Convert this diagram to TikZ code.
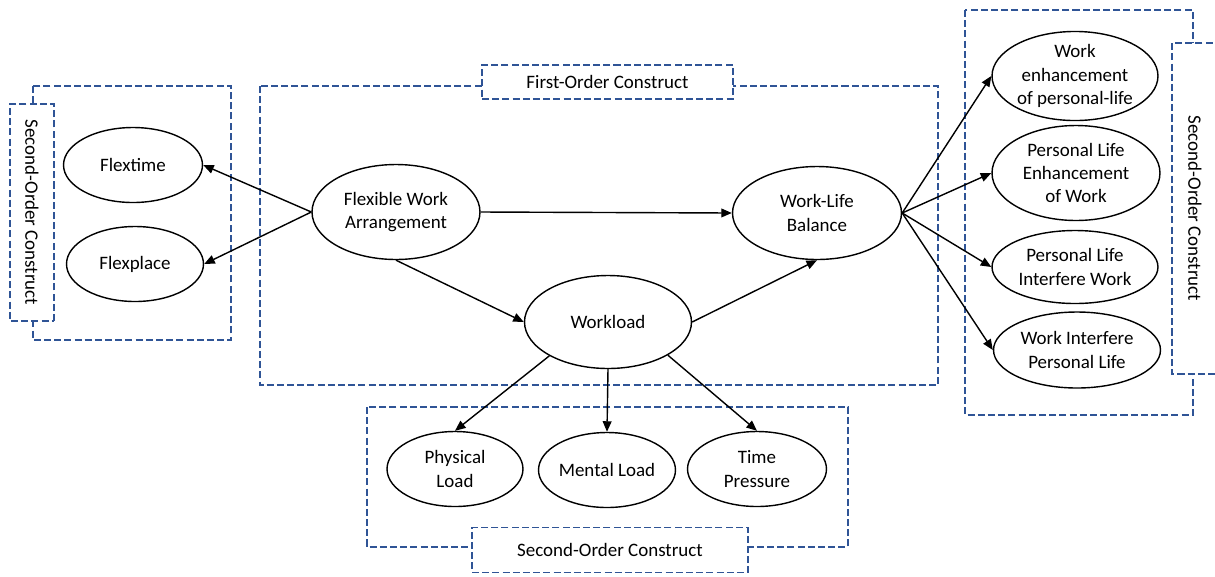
\documentclass[tikz,border=0pt]{standalone}
\usepackage{fontspec}
\setmainfont{Carlito}
\usetikzlibrary{shapes.geometric,arrows.meta}
\definecolor{boxblue}{HTML}{2F5496}
\begin{document}
\begin{tikzpicture}[x=0.02cm,y=-0.02cm,font={\fontsize{10.8}{13.3}\selectfont},
	>={Triangle[length=6pt,width=5pt]},
	construct/.style={ellipse,draw,line width=0.8pt,inner sep=0pt,align=center,fill=white},
	group/.style={draw=boxblue,line width=0.8pt,dash pattern=on 4pt off 1.8pt},
	grouplabel/.style={group,fill=white,inner sep=0pt},
	link/.style={->,line width=0.8pt}]
	\useasboundingbox (0,0) rectangle (1215,576);
	%%Khung nhóm
	\draw[group] (33,86) rectangle (231,340);
	\draw[group] (260,86) rectangle (938,385);
	\draw[group] (367,407) rectangle (848,547);
	\draw[group] (965,10) rectangle (1193,415);
	\node[grouplabel,rotate=-90,minimum width=4.34cm,minimum height=0.88cm] (lblleft) at (32,212.5) {Second-Order Construct};
	\node[grouplabel,rotate=-90,minimum width=6.62cm,minimum height=0.92cm] (lblright) at (1195,208.5) {Second-Order Construct};
	\node[grouplabel,minimum width=5.02cm,minimum height=0.68cm] (lbltop) at (607.5,82) {First-Order Construct};
	\node[grouplabel,minimum width=5.52cm,minimum height=0.9cm] (lblbottom) at (610,550) {Second-Order Construct};
	%%Các biến tiềm ẩn
	\node[construct,minimum width=2.78cm,minimum height=1.5cm] (flextime) at (133,165) {Flextime};
	\node[construct,minimum width=2.74cm,minimum height=1.5cm] (flexplace) at (135,264) {Flexplace};
	\node[construct,minimum width=3.36cm,minimum height=1.9cm] (fwa) at (396,212) {Flexible Work\\Arrangement};
	\node[construct,minimum width=3.38cm,minimum height=1.86cm] (wlb) at (817,213) {Work-Life\\Balance};
	\node[construct,minimum width=3.34cm,minimum height=1.86cm] (workload) at (608,322) {Workload};
	\node[construct,minimum width=2.72cm,minimum height=1.5cm] (physical) at (455,469) {Physical\\Load};
	\node[construct,minimum width=2.74cm,minimum height=1.5cm] (mental) at (607,470) {Mental Load};
	\node[construct,minimum width=2.78cm,minimum height=1.5cm] (timepress) at (757,469) {Time\\Pressure};
	\node[construct,minimum width=3.32cm,minimum height=1.7cm] (wep) at (1075,76) {Work\\enhancement\\of personal-life};
	\node[construct,minimum width=3.36cm,minimum height=1.9cm] (plew) at (1076,173) {Personal Life\\Enhancement\\of Work};
	\node[construct,minimum width=3.32cm,minimum height=1.46cm] (pliw) at (1075,267) {Personal Life\\Interfere Work};
	\node[construct,minimum width=3.34cm,minimum height=1.52cm] (wipl) at (1077,350) {Work Interfere\\Personal Life};
	%%Các mũi tên
	\draw[link] (fwa.west)--(flextime.east);
	\draw[link] (fwa.west)--(flexplace.east);
	\draw[link] (fwa.east)--(wlb.west);
	\draw[link] (fwa.south)--(workload.west);
	\draw[link] (workload.east)--(wlb.south);
	\draw[link] (workload.210)--(physical.north);
	\draw[link] (workload.south)--(mental.north);
	\draw[link] (workload.331)--(timepress.north);
	\draw[link] (wlb.east)--(wep.west);
	\draw[link] (wlb.east)--(plew.west);
	\draw[link] (wlb.east)--(pliw.west);
	\draw[link] (wlb.east)--(wipl.west);
\end{tikzpicture}
\end{document}
